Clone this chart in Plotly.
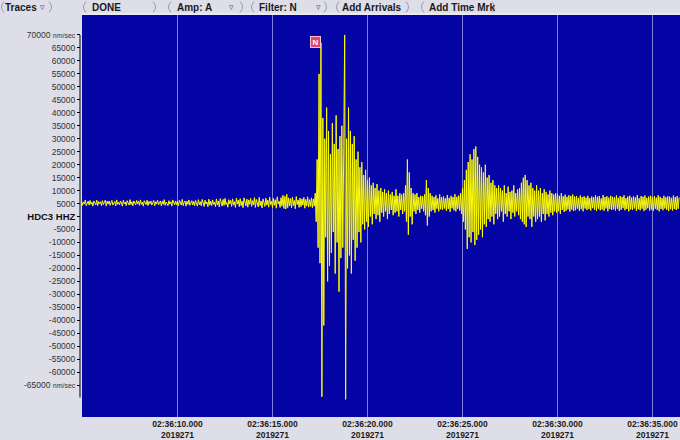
import plotly.graph_objects as go

# ---------------- data ----------------
# Seismogram HDC3 HHZ, samples every 0.05 s starting 02:36:04.95 (day 2019271)
t_start = 4.95         # seconds after 02:36:00
dt = 0.05
trace_k = [  # ground velocity in thousands of nm/sec, one row per second
    6.1, 4.3, 5.6, 4.8, 6.4, 4.1, 5.2, 5.9, 4.4, 6.2, 4.7, 5.5, 4.0, 6.0, 5.3, 4.5, 6.3, 4.2, 5.8, 4.9,
    5.7, 4.2, 6.1, 4.6, 5.4, 6.3, 4.0, 5.9, 4.8, 6.0, 4.3, 5.6, 6.2, 4.4, 5.1, 5.8, 4.1, 6.4, 4.7, 5.5,
    4.5, 6.0, 5.2, 4.0, 6.3, 4.9, 5.6, 4.2, 6.1, 5.0, 4.4, 6.5, 4.6, 5.7, 4.1, 6.0, 5.3, 4.5, 6.2, 4.8,
    5.9, 4.3, 6.4, 4.7, 5.5, 4.0, 6.1, 5.1, 4.6, 6.3, 4.2, 5.8, 4.9, 6.0, 4.4, 5.4, 6.2, 4.1, 5.7, 4.8,
    6.3, 4.5, 5.2, 6.0, 4.1, 5.9, 4.7, 6.5, 4.3, 5.6, 5.0, 4.2, 6.1, 4.8, 5.7, 4.0, 6.4, 5.1, 4.5, 6.0,
    4.6, 5.8, 4.1, 6.3, 5.0, 4.4, 6.6, 4.2, 5.5, 6.0, 4.0, 5.9, 4.7, 6.4, 4.3, 5.3, 6.1, 4.5, 5.8, 4.2,
    6.2, 4.9, 4.0, 6.5, 4.6, 5.7, 4.1, 6.6, 5.2, 3.9, 6.3, 4.8, 5.6, 3.8, 6.7, 4.4, 5.9, 4.2, 6.4, 4.7,
    5.5, 3.8, 6.8, 4.5, 6.0, 3.7, 6.9, 5.1, 4.0, 6.6, 4.3, 7.0, 4.6, 5.4, 3.6, 6.5, 4.9, 6.2, 3.9, 6.8,
    4.4, 5.7, 3.5, 7.1, 4.8, 6.3, 3.8, 6.9, 4.2, 5.9, 3.4, 7.2, 5.0, 4.1, 6.7, 3.6, 6.4, 4.7, 7.0, 3.9,
    6.1, 4.5, 7.3, 3.5, 6.6, 4.9, 3.7, 7.4, 4.2, 6.0, 3.3, 6.8, 5.2, 3.9, 7.1, 4.4, 6.3, 3.6, 7.5, 4.6,
    5.8, 3.4, 7.0, 4.3, 6.5, 3.2, 7.6, 4.8, 5.9, 3.5, 7.3, 4.0, 8.2, 3.1, 7.8, 2.9, 8.6, 3.4, 7.2, 4.1,
    6.9, 3.3, 7.5, 4.2, 6.2, 3.0, 7.7, 4.6, 6.4, 3.5, 7.1, 3.8, 6.8, 4.4, 7.4, 3.2, 6.6, 4.0, 7.6, 3.6,
    6.5, 3.9, 7.2, 3.4, 6.8, 4.0, 9.0, -2.0, 22.0, -12.0, 55.0, -18.0, 67.0, -69.5, 38.0, -42.0, 30.0, -8.0, 42.0, -25.0,
    33.0, -19.0, 24.0, -14.0, 36.0, -6.0, 28.0, -22.0, 39.0, -10.0, 26.0, -29.0, 31.0, -16.0, 35.0, -12.0, 27.0, 70.0, -70.5, 30.0,
    -20.0, 42.0, -15.0, 33.0, -22.0, 28.0, -9.0, 31.0, -17.0, 22.0, -12.0, 25.0, -6.0, 19.0, -10.0, 21.0, -3.0, 16.0, -5.0, 18.0,
    -2.0, 14.0, -4.0, 15.0, 0.0, 12.0, -3.0, 13.0, 1.0, 11.0, -1.0, 12.5, 0.5, 10.0, -2.0, 11.0, 1.5, 9.5, 0.0, 10.5,
    2.0, 9.0, -1.0, 10.0, 1.0, 8.5, 2.5, 9.5, 0.5, 8.0, 1.5, 10.5, 2.0, 8.0, 0.0, 9.0, 2.5, 8.5, 1.0, 9.0,
    2.0, 12.0, -2.0, 22.0, -7.0, 17.0, 0.0, 11.0, -3.0, 9.0, 2.0, 8.5, 1.0, 9.0, 2.5, 7.5, 1.5, 8.0, 3.0, 7.8,
    2.0, 8.5, 0.5, 14.0, -3.5, 11.0, 0.0, 9.0, 2.0, 8.0, 2.5, 7.5, 1.5, 8.2, 3.0, 7.0, 2.0, 8.5, 2.8, 7.4,
    2.5, 7.8, 3.1, 7.0, 2.2, 8.3, 2.9, 7.2, 1.8, 8.0, 3.2, 7.5, 2.4, 8.6, 2.0, 7.6, 3.0, 8.1, 2.3, 9.0,
    1.0, 11.0, -2.0, 14.0, -5.0, 18.0, -12.5, 21.0, -8.0, 24.0, -10.0, 22.0, -6.0, 26.0, -11.0, 27.0, -9.0, 23.0, -7.0, 20.0,
    -5.0, 19.0, -8.0, 17.0, -3.0, 20.0, -4.0, 15.0, -1.0, 16.0, -2.0, 13.0, 0.0, 14.0, -3.0, 12.0, 1.0, 11.0, -1.0, 12.0,
    0.0, 11.0, 2.0, 10.0, -2.0, 12.0, 1.0, 9.0, 0.0, 11.5, 2.0, 9.5, -1.0, 10.0, 1.5, 12.0, 0.0, 9.0, 2.0, 10.5,
    0.5, 11.0, -1.0, 13.0, -2.0, 15.0, -3.0, 16.0, -4.0, 14.0, 0.0, 12.0, -1.0, 13.0, -4.0, 11.0, 0.0, 10.0, -2.0, 12.0,
    -1.0, 10.0, 0.0, 11.0, -2.0, 9.0, 1.0, 10.5, -1.5, 9.5, 1.0, 8.5, 0.0, 10.0, 1.5, 9.0, 0.5, 8.5, 2.0, 9.0,
    1.5, 8.8, 2.0, 8.0, 1.0, 9.0, 2.5, 7.8, 1.8, 8.4, 2.2, 7.6, 2.8, 8.2, 1.9, 7.9, 2.6, 8.5, 2.1, 7.7,
    2.4, 7.9, 3.0, 7.2, 2.2, 8.1, 2.8, 7.5, 2.0, 7.8, 3.1, 7.3, 2.5, 8.0, 2.9, 7.1, 2.3, 7.7, 3.2, 7.4,
    2.6, 8.2, 2.1, 7.6, 3.0, 7.9, 2.4, 7.0, 2.7, 8.3, 2.2, 7.5, 3.1, 7.8, 2.0, 7.3, 2.9, 8.0, 2.5, 7.6,
    2.8, 7.4, 2.3, 8.1, 3.0, 7.2, 2.1, 7.9, 2.6, 7.5, 3.2, 8.2, 2.4, 7.1, 2.9, 7.7, 2.0, 8.0, 2.7, 7.3,
    2.5, 7.8, 3.1, 7.4, 2.2, 8.3, 2.8, 7.0, 2.4, 7.9, 3.0, 7.6, 2.1, 8.1, 2.6, 7.2, 3.2, 7.7, 2.3, 8.0,
    2.7, 7.5, 2.2, 7.9, 3.0, 7.3, 2.5, 8.2, 2.0, 7.6, 2.9, 7.1, 2.4, 8.0, 3.1, 7.4, 2.6, 7.8, 2.1, 7.7,
    2.8, 7.2, 2.3, 8.1, 2.9, 7.5, 2.5, 7.9, 3.0, 7.3,
]

time_ticks = [10, 15, 20, 25, 30, 35]
time_labels = [
    "02:36:10.000", "02:36:15.000", "02:36:20.000",
    "02:36:25.000", "02:36:30.000", "02:36:35.000",
]
day_label = "2019271"

amp_ticks = [70000, 65000, 60000, 55000, 50000, 45000, 40000, 35000, 30000,
             25000, 20000, 15000, 10000, 5000, 0, -5000, -10000, -15000,
             -20000, -25000, -30000, -35000, -40000, -45000, -50000, -55000,
             -60000, -65000]
amp_labels = ["70000 <span style='font-size:7px'>nm/sec</span>", "65000", "60000",
              "55000", "50000", "45000", "40000", "35000", "30000", "25000",
              "20000", "15000", "10000", "5000",
              "<b><span style='font-size:9.5px;color:#101010'>HDC3 HHZ</span></b>",
              "-5000", "-10000", "-15000", "-20000", "-25000", "-30000", "-35000",
              "-40000", "-45000", "-50000", "-55000", "-60000",
              "-65000 <span style='font-size:7px'>nm/sec</span>"]
axis_span = [70000, -69800]

marker_time = 17.25
marker_text = "N"

toolbar_buttons = ["Traces", "DONE", "Amp: A", "Filter: N", "Add Arrivals", "Add Time Mrk"]
# ---------------------------------------

W, H = 680, 440
ML, MR, MT, MB = 80, 0, 15, 23
PW, PH = W - ML - MR, H - MT - MB


def pxx(x):
    return (x - ML) / PW


def pxy(y):
    return (H - MB - y) / PH


times = [t_start + i * dt for i in range(len(trace_k))]
values = [v * 1000 for v in trace_k]

fig = go.Figure()
fig.add_trace(go.Scatter(
    x=times, y=values, mode="lines",
    line=dict(color="#ffff00", width=1),
    hoverinfo="skip", showlegend=False,
))

fig.update_layout(
    width=W, height=H,
    margin=dict(l=ML, r=MR, t=MT, b=MB, pad=0),
    paper_bgcolor="#dedee8",
    plot_bgcolor="#0505a6",
    showlegend=False,
    font=dict(family="Liberation Sans, Arial, sans-serif", color="#222"),
    xaxis=dict(
        domain=[2 / PW, 1],
        range=[4.974, 36.447],
        tickvals=time_ticks,
        ticktext=[f"<b>{a}<br>{day_label}</b>" for a in time_labels],
        tickfont=dict(size=8.5, color="#1a1a1a"),
        showgrid=True, gridcolor="rgba(150,150,222,0.85)", gridwidth=1,
        zeroline=False, showline=False, ticks="", automargin=False,
    ),
    yaxis=dict(
        anchor="free", position=0,
        range=[-77300, 77700],
        tickvals=amp_ticks, ticktext=amp_labels,
        tickfont=dict(size=8.5, color="#333"),
        ticks="outside", ticklen=3, tickcolor="#000", tickwidth=1,
        showgrid=False, zeroline=False, showline=False, automargin=False,
    ),
)

shapes = [
    dict(type="line", xref="paper", yref="y", x0=0, x1=0,
         y0=axis_span[0], y1=axis_span[1], line=dict(color="#000", width=1)),
]
annotations = []

# toolbar
btn_geom = [(0, 53, 3), (82, 157, 90), (167, 244, 175), (250, 328, 257),
            (335, 410, 340), (420, 496, 427)]
dropdown_x = {0: 42, 2: 231, 3: 318}
for k, (label, (bx0, bx1, tx)) in enumerate(zip(toolbar_buttons, btn_geom)):
    for (a, c) in ((bx0 + 4, bx0 - 1), (bx1 - 4, bx1 + 1)):
        shapes.append(dict(
            type="path", xref="paper", yref="paper",
            path=f"M {pxx(a)},{pxy(1.5)} Q {pxx(c)},{pxy(7)} {pxx(a)},{pxy(12.5)}",
            line=dict(color="#9a9aae", width=1),
        ))
    annotations.append(dict(
        xref="paper", yref="paper", x=pxx(tx), y=pxy(7.5),
        xanchor="left", yanchor="middle", showarrow=False,
        text=f"<b>{label}</b>", font=dict(size=10, color="#1a1a1a"),
    ))
    if k in dropdown_x:
        annotations.append(dict(
            xref="paper", yref="paper", x=pxx(dropdown_x[k]), y=pxy(7.5),
            xanchor="center", yanchor="middle", showarrow=False,
            text="▿", font=dict(size=9, color="#555"),
        ))

# light separator above the trace panel
shapes.append(dict(type="line", xref="paper", yref="paper",
                   x0=pxx(82), x1=1, y0=pxy(14), y1=pxy(14),
                   line=dict(color="#f4f4fa", width=1)))

# phase marker
annotations.append(dict(
    xref="x", yref="paper", x=marker_time, y=pxy(41.7),
    xanchor="center", yanchor="middle", showarrow=False,
    text=f"<b>{marker_text}</b>", font=dict(size=8, color="#ffffff"),
    bgcolor="#e0466a", bordercolor="#f2c4d2", borderwidth=1, borderpad=1,
    width=7, height=8,
))

fig.update_layout(shapes=shapes, annotations=annotations)
fig.write_html(
    "out.html",
    config={"displayModeBar": False},
    post_script="document.body.style.margin='0';document.body.style.overflow='hidden';",
)
